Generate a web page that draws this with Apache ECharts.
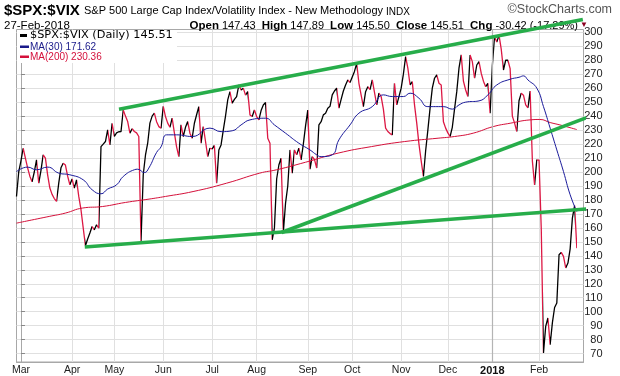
<!DOCTYPE html>
<html><head><meta charset="utf-8">
<script src="https://cdn.jsdelivr.net/npm/echarts@6/dist/echarts.min.js"></script>
<style>html,body{margin:0;padding:0;background:#fff}#c{width:620px;height:376px}</style>
</head><body><div id="c"></div>
<script>
// ---- data (trading day index d: -2 = 27-Feb-2017, 250 = 27-Feb-2018) ----
const firstDay = -2;
const closes = [
182.5,200,208,217,210,203,197,193,200,208.7,192,201,212.3,210,198,188.5,184,181,179,192,
203,206.3,205,197,190.8,195,188.5,194.4,182.5,173,160,147.2,152,156.3,161,158.6,162.2,159.8,218.2,220,
221.8,230.1,219.4,234.9,225.4,228,228.8,228.9,244.4,240,236.1,227.8,231,229,228,225.4,150.3,198,212,220.6,
235,240,242.1,236,232.5,231.4,247,239.7,235,232,238.5,228,218,211,233.7,225.4,232,236.1,227.8,224.2,
234.9,241,246.8,220.6,232.5,222,211,217,216.5,219,192,215.8,219.4,230,240,251.6,257.5,249.2,252,254,
262.3,258.7,260,255,257.5,240.9,239.7,244.4,239.7,237.3,244,248,249.7,224.2,220.6,151.5,160,195,205,209.9,
156.7,177.7,190,215.8,199.2,215.8,212.3,217.1,208.7,220,233,244.4,202,211,209,202.8,233.7,236,240.9,242,
245.7,247,255.2,258,260,245.7,252,258,262.3,265.9,264,268,272,277.8,263.5,255,246.8,257.5,261,259,
265.9,257,248,256.4,254,245,231.4,229,227.5,226.6,263.5,248,254,260,270,282.6,274.3,262.3,264.7,248,
235,220,208,196.8,215,230,245.7,260,267.1,269.5,263.5,262.3,236,231.4,228,225.4,232,245,257.5,274.3,
283.8,265,258.7,254,283.8,279,267.1,276.6,279,270.7,265,261.1,263.5,242.1,276,297,293,298,288,273,
280,280,274,240,235,229,251,256.4,255,248,246,258,208,190.8,208.7,208.5,159.6,70.5,89.5,95.5,
76.4,92,103,106.2,140.8,142.5,139.6,131.3,134.8,145,167,175.93,145.51
];
const ma30 = [[-2,200.3],[3,203.5],[7,201.6],[12,203.5],[17,199.2],[22,198],[28,194.4],[32,187.3],[36,184.4],[39,187.8],
[43,190.8],[46,196.8],[51,201.6],[52.5,202],[55.5,199.6],[57.5,202.8],[61,214],[63,218],[65.5,226.6],[70,226.6],
[77,225.4],[85,231.4],[90,228.9],[95,229.5],[99,233.7],[103,237.3],[110,238.5],[114,233.7],[119,227.8],[125,220.6],
[130,215.8],[133,212.3],[135,211],[140,212.3],[143,223],[148,233.7],[152,242.1],[158,246.8],[163,255.2],[167,254],
[172,254],[175,256.4],[179,252.8],[183,246.8],[190,246.8],[194,245],[197,248],[200,250],[206,250.9],[210,255.2],
[214,262.3],[220,266.4],[224,267.8],[226,268.8],[228,265.9],[232,260],[235,246.8],[238,231.4],[241,215.8],[244,200.3],
[247,183.7],[250,171.62]];
const ma200 = [[-2,163.4],[12.7,168.2],[20,170.6],[27.7,174.2],[36.7,175.3],[47,178.2],[57.6,180.6],[65,182.5],[77.4,186],
[92.5,192],[107.4,199.2],[115,201.6],[128,207],[142.6,213.5],[157.7,218.2],[172.6,221.8],[187.6,224.2],[195,225.4],
[203.4,227.8],[212.4,232.5],[220,234.9],[229,237.3],[233.4,237.6],[238,235.4],[242.4,233.7],[250,230.36]];
const trendUpper = [[44.1,244.9],[252.7,309.2]];
const trendRising = [[117.2,156.7],[269.3,247.8]];
const trendSupport = [[28.7,146.3],[269.3,175.3]];
const monthLabels = ['Mar','Apr','May','Jun','Jul','Aug','Sep','Oct','Nov','Dec','2018','Feb'];
const monthDays = [23,19,22,22,20,23,20,22,21,20,21,18];
const padBefore = 2, padAfter = 3;
const yMin = 64, yMax = 302;
const yTickValues = [70,80,90,100,110,120,130,140,150,160,170,180,190,200,210,220,230,240,250,260,270,280,290,300];

// ---- build axis categories ----
const total = padBefore + monthDays.reduce((a,b)=>a+b,0) + padAfter;
const cats = []; for (let i=0;i<total;i++) cats.push(String(i));
const labelAt = {}; let acc = padBefore;
monthLabels.forEach((m,k)=>{ labelAt[acc]=m; acc+=monthDays[k]; });
const isMonth = (i)=> labelAt[i] !== undefined;
const xMaxD = firstDay + total - 1;
const yearIdx = Object.keys(labelAt).find(k=>labelAt[k]==='2018');

const RED = '#dc1743', BLACK = '#000000';
const pieces = closes.map((v,i)=>({gt:i-1, lte:i, color:(i>0 && v<closes[i-1])?RED:BLACK}));

const GREEN = '#27ad4a';
const FONT = 'Liberation Sans, Arial, sans-serif';
const chart = echarts.init(document.getElementById('c'), null, {renderer:'canvas'});
const trend = (d)=>({type:'line', xAxisIndex:1, data:d, clip:false, showSymbol:false, silent:true, z:10,
  lineStyle:{color:GREEN, width:3.6}, itemStyle:{color:GREEN}});
chart.setOption({
  animation:false,
  backgroundColor:'#fff',
  grid:{left:16.5, right:36.5, top:29.5, bottom:13.6, show:true, borderColor:'#a8a8a8', borderWidth:1},
  xAxis:[{
    type:'category', data:cats, boundaryGap:false,
    axisLine:{show:true, lineStyle:{color:'#a8a8a8'}}, axisTick:{show:false},
    axisLabel:{interval:(i)=>isMonth(i), margin:3, fontSize:10.5, color:'#222', fontFamily:FONT,
      formatter:(v)=>{ const l = labelAt[Number(v)]||''; return l==='2018' ? '{b|2018}' : l; },
      rich:{b:{fontWeight:'bold', fontSize:11, color:'#111', fontFamily:FONT}}},
    splitLine:{show:true, interval:(i)=>isMonth(i), lineStyle:{color:'#e0e0e0', width:1}}
  },{
    type:'value', show:false, min:firstDay, max:xMaxD
  }],
  yAxis:{
    type:'value', position:'right', min:yMin, max:yMax,
    axisLine:{show:true, lineStyle:{color:'#a8a8a8'}},
    axisTick:{show:true, length:4, customValues:yTickValues, lineStyle:{color:'#888'}},
    axisLabel:{customValues:yTickValues, align:'right', margin:19, fontSize:11, color:'#222', fontFamily:FONT},
    splitLine:{show:true, lineStyle:{color:'#e0e0e0', width:1}}
  },
  visualMap:{type:'piecewise', show:false, seriesIndex:0, dimension:0, pieces:pieces},
  series:[
    {type:'line', xAxisIndex:0, data:closes, showSymbol:false, z:3, lineStyle:{width:1.3},
      markLine:{silent:true, symbol:'none', label:{show:false}, lineStyle:{color:'#b4b4b4', width:1.2, type:'solid'}, data:[{xAxis:yearIdx}]}},
    {type:'line', xAxisIndex:1, data:ma200, smooth:true, showSymbol:false, z:4, lineStyle:{color:'#d4103a', width:1}, itemStyle:{color:'#d4103a'}},
    {type:'line', xAxisIndex:1, data:ma30, smooth:true, showSymbol:false, z:5, lineStyle:{color:'#1a1a9a', width:1}, itemStyle:{color:'#1a1a9a'}},
    trend(trendUpper), trend(trendRising), trend(trendSupport)
  ],
  graphic:[
    {type:'text', z:0, style:{text:'$SPX:$VIX', x:4, y:11, textVerticalAlign:'middle', font:'bold 15px '+FONT, fill:'#000'}},
    {type:'text', z:0, style:{text:'S&P 500 Large Cap Index/Volatility Index - New Methodology', x:84, y:11, textVerticalAlign:'middle', font:'11px '+FONT, fill:'#000'}},
    {type:'text', z:0, style:{text:'INDX', x:386, y:12, textVerticalAlign:'middle', font:'10px '+FONT, fill:'#000'}},
    {type:'text', z:0, style:{text:'\u00A9StockCharts.com', x:612, y:10, textAlign:'right', textVerticalAlign:'middle', font:'12.5px '+FONT, fill:'#555'}},
    {type:'text', z:0, style:{text:'27-Feb-2018', x:4, y:25.5, textVerticalAlign:'middle', font:'11.5px '+FONT, fill:'#000'}},
    {type:'text', z:0, style:{text:'{b|Open} 147.43  {b|High} 147.89  {b|Low} 145.50  {b|Close} 145.51  {b|Chg} -30.42 (-17.29%)',
      x:578, y:25.5, textAlign:'right', textVerticalAlign:'middle', font:'11px '+FONT, fill:'#000',
      rich:{b:{fontWeight:'bold', fontSize:11.5, fontFamily:FONT, fill:'#000'}}}},
    {type:'text', z:0, style:{text:'\u25BC', x:580, y:25, textVerticalAlign:'middle', font:'8px '+FONT, fill:'#8b0020'}},
    {type:'rect', z:50, shape:{x:17, y:30, width:160, height:33}, style:{fill:'#fff'}},
    {type:'rect', z:51, shape:{x:20, y:34, width:7, height:3}, style:{fill:'#000'}},
    {type:'text', z:51, style:{text:'$SPX:$VIX (Daily) 145.51', x:30, y:35.5, textVerticalAlign:'middle', font:'11.3px DejaVu Sans', fill:'#000'}},
    {type:'rect', z:51, shape:{x:20, y:45.5, width:9, height:2.5}, style:{fill:'#1a1a8a'}},
    {type:'text', z:51, style:{text:'MA(30) 171.62', x:30, y:47, textVerticalAlign:'middle', font:'10px '+FONT, fill:'#1a1a8a'}},
    {type:'rect', z:51, shape:{x:20, y:55.5, width:9, height:2.5}, style:{fill:'#d4103a'}},
    {type:'text', z:51, style:{text:'MA(200) 230.36', x:30, y:57, textVerticalAlign:'middle', font:'10px '+FONT, fill:'#d4103a'}}
  ]
});
</script></body></html>
